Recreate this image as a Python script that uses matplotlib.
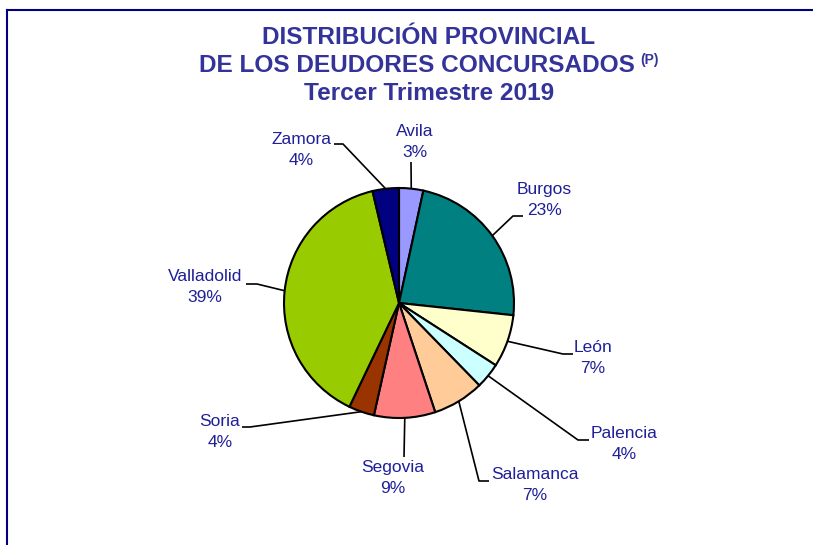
import numpy as np
import matplotlib
matplotlib.use("Agg")
import matplotlib.pyplot as plt
from matplotlib import font_manager

# datos (porcentajes)
provincias = ["Avila", "Burgos", "León", "Palencia", "Salamanca",
              "Segovia", "Soria", "Valladolid", "Zamora"]
porcentajes = [3.4, 23.3, 7.4, 3.6, 7.2, 8.6, 3.6, 39.2, 3.7]
colores = ["#9999FF", "#008080", "#FFFFCC", "#CCFFFF", "#FFCC99",
           "#FF8080", "#993300", "#99CC00", "#000080"]

titulo_1 = "DISTRIBUCIÓN PROVINCIAL"
titulo_2 = "DE LOS DEUDORES CONCURSADOS"
titulo_sup = "(P)"
titulo_3 = "Tercer Trimestre 2019"

# posición de etiquetas (pixeles de la imagen): texto, codo, final de la guía
layout = {
    "Avila":      ((415, 142), (411, 162), (411, 162)),
    "Burgos":     ((544, 200), (513, 216), (523, 216)),
    "León":       ((593, 358), (563, 354), (573, 354)),
    "Palencia":   ((624, 444), (578, 440), (589, 440)),
    "Salamanca":  ((535, 485), (479, 481), (489, 481)),
    "Segovia":    ((393, 478), (404, 457), (404, 457)),
    "Soria":      ((220, 432), (250, 427), (242, 427)),
    "Valladolid": ((205, 287), (257, 284), (246, 284)),
    "Zamora":     ((301, 150), (343, 144), (334, 144)),
}

W, H = 813, 545
nombres = [f.name for f in font_manager.fontManager.ttflist]
fuente_titulo = "Liberation Sans Narrow" if "Liberation Sans Narrow" in nombres else "Liberation Sans"

fig = plt.figure(figsize=(W / 100, H / 100), dpi=100)
ax = fig.add_axes([0, 0, 1, 1])

def y_img(y):
    return H - y  # convierte coordenada de imagen a coordenada de ejes

cx, cy, r = 399, y_img(303), 115
wedges, _ = ax.pie(porcentajes, colors=colores, startangle=90, counterclock=False,
                   center=(cx, cy), radius=r, frame=True,
                   wedgeprops=dict(edgecolor="black", linewidth=1.5))
ax.set_xlim(0, W)
ax.set_ylim(0, H)
ax.set_aspect("equal")
ax.axis("off")

color_txt = "#1F1F99"
for w, nombre, p in zip(wedges, provincias, porcentajes):
    ang = np.deg2rad((w.theta1 + w.theta2) / 2)
    ancla = (cx + r * np.cos(ang), cy + r * np.sin(ang))
    (tx, ty), codo, fin = layout[nombre]
    xs = [ancla[0], codo[0], fin[0]]
    ys = [ancla[1], y_img(codo[1]), y_img(fin[1])]
    ax.plot(xs, ys, color="black", lw=1.2, solid_capstyle="butt")
    ax.text(tx, y_img(ty), f"{nombre}\n{round(p):.0f}%", ha="center", va="center",
            fontsize=12.5, family="Liberation Sans", color=color_txt, linespacing=1.45)

# título
color_tit = "#333399"
kw = dict(fontsize=17.6, fontweight="bold", family=fuente_titulo, color=color_tit, va="center")
ax.text(429, y_img(37), titulo_1, ha="center", **kw)
ax.text(429, y_img(94), titulo_3, ha="center", **kw)
t2 = ax.text(0, y_img(65), titulo_2, ha="left", **kw)
t_sup = ax.text(0, y_img(60), titulo_sup, ha="left", fontsize=10, fontweight="bold",
                family=fuente_titulo, color=color_tit, va="center")
fig.canvas.draw()
r_ = fig.canvas.get_renderer()
a2 = t2.get_window_extent(r_).width
a_sup = t_sup.get_window_extent(r_).width
hueco = 5
x0 = 429 - (a2 + hueco + a_sup) / 2
t2.set_x(x0)
t_sup.set_x(x0 + a2 + hueco)

# marco superior e izquierdo
ax.plot([7, W], [y_img(10), y_img(10)], color="#000080", lw=1.5)
ax.plot([7, 7], [y_img(10), 0], color="#000080", lw=1.5)

fig.savefig("out.png", dpi=100, facecolor="white")
